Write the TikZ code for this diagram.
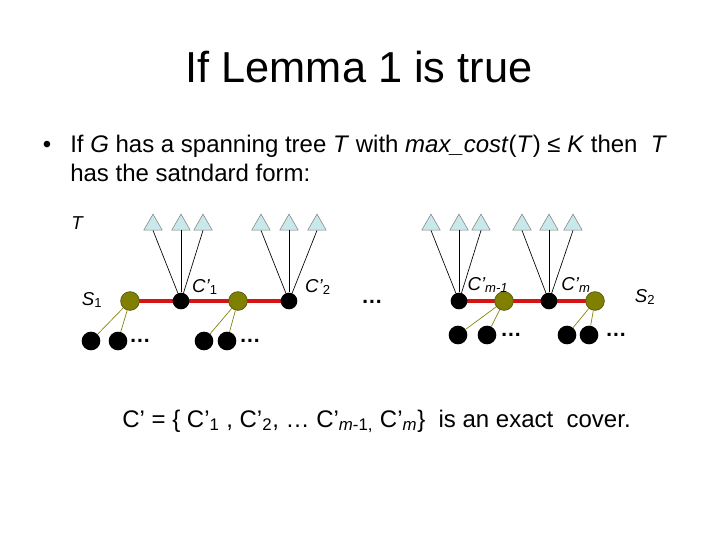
\documentclass[tikz,border=0pt]{standalone}
\usepackage{fontspec}
\setmainfont{Liberation Sans}
\usetikzlibrary{shapes.geometric,backgrounds}

\definecolor{olivenode}{RGB}{128,128,0}
\definecolor{oliveedge}{RGB}{90,90,20}
\definecolor{chainred}{RGB}{215,20,20}
\definecolor{leafblue}{RGB}{200,232,236}

\tikzset{
  cnode/.style={circle, fill=black, inner sep=0pt, minimum size=12.5pt},
  snode/.style={circle, fill=olivenode, draw=oliveedge, line width=0.6pt, inner sep=0pt, minimum size=14pt},
  bnode/.style={circle, fill=black, inner sep=0pt, minimum size=14pt},
  leaf/.style={regular polygon, regular polygon sides=3, fill=leafblue, draw=gray, line width=0.4pt, inner sep=0pt, minimum size=16pt},
  chain/.style={chainred, line width=3.5pt},
  stem/.style={black, line width=0.5pt},
  twig/.style={olivenode, line width=0.5pt},
  lbl/.style={font=\fontsize{14}{14}\selectfont\itshape, inner sep=0pt},
  dots/.style={font=\fontsize{16}{16}\selectfont\bfseries, inner sep=0pt},
  txt/.style={anchor=base west, inner sep=0pt, font=\fontsize{18}{18}\selectfont},
}

\begin{document}
\begin{tikzpicture}[x=0.75pt, y=-0.75pt]
  \useasboundingbox (0,0) rectangle (720,540);

  % title and text
  \node[anchor=base, inner sep=0pt, font=\fontsize{32.5}{32.5}\selectfont] (title) at (359,82) {If Lemma 1 is true};
  \node[anchor=base, inner sep=0pt, font=\fontsize{18}{18}\selectfont] (bullet) at (47,152) {•};
  \node[txt] (line1) at (70,152)
    {If \textit{G} has a spanning tree \textit{T} with \textit{max\_cost}(\textit{T}) ≤ \textit{K} then~ \textit{T}};
  \node[txt] (line2) at (70,181) {has the satndard form:};

  \node[lbl] (tlabel) at (77,223) {T};

  % chain nodes
  \node[snode] (s1) at (130,301) {};
  \node[cnode] (c1) at (181,301) {};
  \node[snode] (sa) at (238,301) {};
  \node[cnode] (c2) at (289,301) {};
  \node[cnode] (cm1) at (459,301) {};
  \node[snode] (sb) at (504,301) {};
  \node[cnode] (cm) at (549,301) {};
  \node[snode] (s2) at (595,301) {};

  \begin{scope}[on background layer]
    \draw[chain] (s1.center) -- (c1.center) -- (sa.center) -- (c2.center);
    \draw[chain] (cm1.center) -- (sb.center) -- (cm.center) -- (s2.center);
  \end{scope}

  % triangles over the C' nodes
  \foreach \c/\xa/\xb/\xc in {c1/153/181/203, c2/261/289/317, cm1/431/459/481, cm/522/549/573} {
    \node[leaf] (\c-a) at (\xa,224.8) {};
    \node[leaf] (\c-b) at (\xb,224.8) {};
    \node[leaf] (\c-c) at (\xc,224.8) {};
    \draw[stem] (\c-a.south) -- (\c);
    \draw[stem] (\c-b.south) -- (\c);
    \draw[stem] (\c-c.south) -- (\c);
  }

  % elements under the S nodes
  \foreach \s/\xa/\xb/\xd/\y in {s1/91/118/140/341, sa/204/227/250/341, sb/458/487/511/335, s2/567/589/616/335} {
    \node[bnode] (\s-a) at (\xa,\y) {};
    \node[bnode] (\s-b) at (\xb,\y) {};
    \node[dots] (\s-d) at (\xd,\y) {…};
    \draw[twig] (\s) -- (\s-a);
    \draw[twig] (\s) -- (\s-b);
  }

  \node[dots] (middots) at (372,302) {…};

  % labels
  \node[lbl] (s1label) at (92,300) {S\textsubscript{\upshape 1}};
  \node[lbl] (c1label) at (205,287) {C’\textsubscript{\upshape 1}};
  \node[lbl] (c2label) at (318,287) {C’\textsubscript{\upshape 2}};
  \node[lbl] (cm1label) at (488,285) {C’\textsubscript{m-1}};
  \node[lbl] (cmlabel) at (576,285) {C’\textsubscript{m}};
  \node[lbl] (s2label) at (645,297) {S\textsubscript{\upshape 2}};

  % exact cover line
  \node[txt] (cover) at (122,427)
    {C’ = \{ C’\textsubscript{1} , C’\textsubscript{2}, … C’\textsubscript{\textit{m}-1,} C’\textsubscript{\textit{m}}\}~ is an exact~ cover.};
\end{tikzpicture}
\end{document}
